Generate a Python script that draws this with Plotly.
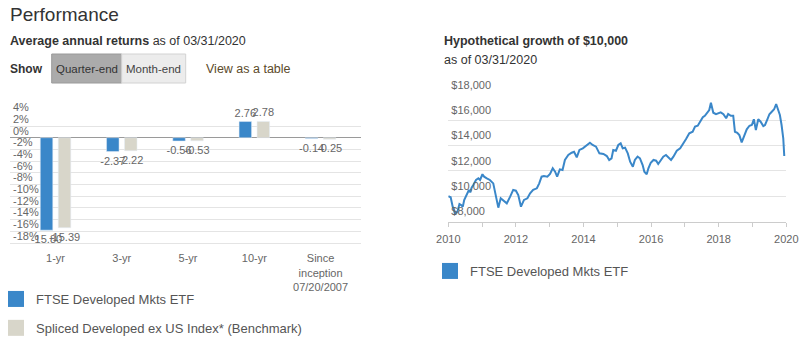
import plotly.graph_objects as go

FONT = "Liberation Sans, Arial, sans-serif"
W, H = 800, 347

# ---- data: average annual returns ----
periods = ["1-yr", "3-yr", "5-yr", "10-yr", "Since<br>inception<br>07/20/2007"]
fund_name = "FTSE Developed Mkts ETF"
bench_name = "Spliced Developed ex US Index* (Benchmark)"
fund_returns = [-15.80, -2.37, -0.56, 2.76, -0.14]
bench_returns = [-15.39, -2.22, -0.53, 2.78, -0.25]
return_ticks = [4, 2, 0, -2, -4, -6, -8, -10, -12, -14, -16, -18]
return_tick_labels = ["4%", "2%", "0%", "-2%", "-4%", "-6%", "-8%", "-10%",
                      "-12%", "-14%", "-16%", "-18%"]

# ---- data: hypothetical growth of $10,000 (decimal years) ----
growth_years = [
    2010.00, 2010.07, 2010.13, 2010.20, 2010.27, 2010.33, 2010.38, 2010.43, 2010.47, 2010.54,
    2010.61, 2010.65, 2010.69, 2010.74, 2010.82, 2010.89, 2010.94, 2011.01, 2011.06, 2011.14,
    2011.23, 2011.33, 2011.40, 2011.48, 2011.55, 2011.63, 2011.73, 2011.83, 2011.92, 2012.00,
    2012.07, 2012.15, 2012.24, 2012.34, 2012.42, 2012.51, 2012.62, 2012.69, 2012.76, 2012.83,
    2012.93, 2013.01, 2013.09, 2013.16, 2013.22, 2013.30, 2013.38, 2013.45, 2013.55, 2013.65,
    2013.72, 2013.80, 2013.88, 2013.98, 2014.07, 2014.19, 2014.27, 2014.37, 2014.47, 2014.59,
    2014.69, 2014.76, 2014.83, 2014.88, 2014.96, 2015.03, 2015.10, 2015.16, 2015.23, 2015.31,
    2015.38, 2015.46, 2015.52, 2015.60, 2015.67, 2015.75, 2015.80, 2015.87, 2015.92, 2015.99,
    2016.07, 2016.15, 2016.21, 2016.29, 2016.36, 2016.44, 2016.51, 2016.59, 2016.66, 2016.76,
    2016.86, 2016.93, 2017.03, 2017.13, 2017.23, 2017.30, 2017.38, 2017.45, 2017.53, 2017.59,
    2017.67, 2017.72, 2017.77, 2017.84, 2017.92, 2017.99, 2018.06, 2018.14, 2018.22, 2018.28,
    2018.36, 2018.43, 2018.48, 2018.55, 2018.61, 2018.68, 2018.75, 2018.83, 2018.91, 2018.98,
    2019.04, 2019.10, 2019.17, 2019.24, 2019.32, 2019.37, 2019.44, 2019.50, 2019.57, 2019.64,
    2019.70, 2019.76, 2019.81, 2019.86, 2019.91, 2019.94,
]
growth_values = [
    10000, 9920, 9180, 8650, 8780, 9390, 9310, 9180, 9710, 10100,
    10500, 10310, 10680, 10890, 11290, 11420, 11290, 11740, 11550, 11420,
    11290, 11020, 10230, 9100, 9840, 9650, 9440, 9970, 10500, 10440,
    10100, 9180, 9710, 9840, 10230, 10500, 10630, 11020, 11550, 11600,
    11550, 11760, 12210, 11940, 11550, 12130, 12080, 12870, 13260, 13440,
    13520, 13080, 13660, 13790, 13970, 14230, 14050, 13920, 13390, 13340,
    13180, 12870, 13000, 13660, 13600, 14050, 14180, 13790, 13840, 13390,
    12730, 12340, 12870, 13130, 13000, 12470, 11940, 11740, 12210, 12650,
    12870, 12810, 12550, 12920, 13130, 13260, 13080, 12870, 13130, 13600,
    13790, 14050, 14500, 14970, 15100, 15500, 15570, 15890, 16240, 16360,
    16600, 16810, 17390, 16600, 16480, 16550, 16630, 16480, 16160, 16500,
    16360, 16360, 15100, 15020, 14840, 14260, 14710, 15290, 15570, 15630,
    16080, 15240, 16080, 15890, 15550, 15630, 16080, 16480, 16680, 16870,
    17290, 16890, 16420, 15630, 14580, 13180,
]

BLUE = "#3a87c9"
BEIGE = "#d8d6ca"
GRID = "#e4e4e4"
TXT = "#666666"


def px_x(p):
    return p / W


def px_y(p):
    return 1 - p / H


fig = go.Figure()

# bars
fig.add_trace(go.Bar(
    x=periods, y=fund_returns, name=fund_name, marker_color=BLUE,
    text=[f"{v:.2f}" for v in fund_returns], textposition="outside",
    constraintext="none", cliponaxis=False,
    textfont=dict(size=11, color=TXT, family=FONT), showlegend=False,
    xaxis="x", yaxis="y",
))
fig.add_trace(go.Bar(
    x=periods, y=bench_returns, name=bench_name, marker_color=BEIGE,
    text=[f"{v:.2f}" for v in bench_returns], textposition="outside",
    constraintext="none", cliponaxis=False,
    textfont=dict(size=11, color=TXT, family=FONT), showlegend=False,
    xaxis="x", yaxis="y",
))
# legend proxies (square swatches)
fig.add_trace(go.Scatter(
    x=[None], y=[None], mode="markers", name=fund_name, legendgroup="a",
    marker=dict(symbol="square", size=16, color=BLUE), xaxis="x", yaxis="y",
    legend="legend",
))
fig.add_trace(go.Scatter(
    x=[None], y=[None], mode="markers", name=bench_name, legendgroup="b",
    marker=dict(symbol="square", size=16, color=BEIGE), xaxis="x", yaxis="y",
    legend="legend",
))

# growth line
fig.add_trace(go.Scatter(
    x=growth_years, y=growth_values, mode="lines", name=fund_name,
    line=dict(color=BLUE, width=2), showlegend=False,
    xaxis="x2", yaxis="y2",
))
fig.add_trace(go.Scatter(
    x=[None], y=[None], mode="markers", name=fund_name,
    marker=dict(symbol="square", size=16, color=BLUE), xaxis="x2", yaxis="y2",
    legend="legend2",
))

fig.update_layout(
    width=W, height=H,
    margin=dict(l=0, r=0, t=0, b=0, autoexpand=False),
    paper_bgcolor="white", plot_bgcolor="white",
    font=dict(family=FONT, color=TXT, size=11),
    barmode="group", bargap=0.457, bargroupgap=0.305,
    xaxis=dict(
        domain=[px_x(10), px_x(361)], range=[-0.687, 4.61],
        showline=True, linecolor=GRID, linewidth=1, showgrid=False,
        ticks="", tickfont=dict(size=11, color=TXT), ticklabelstandoff=5,
        fixedrange=True, anchor="y", automargin=False,
    ),
    yaxis=dict(
        domain=[px_y(243), px_y(114.3)], range=[-18, 4],
        tickvals=return_ticks, ticktext=return_tick_labels,
        showgrid=True, gridcolor=GRID, gridwidth=1,
        zeroline=True, zerolinecolor="#9a9a9a", zerolinewidth=1,
        ticklabelposition="inside", ticklabelshift=-7, ticklabeloverflow="allow",
        ticklabelstandoff=0, automargin=False,
        tickfont=dict(size=11, color=TXT), anchor="x",
    ),
    xaxis2=dict(
        domain=[px_x(448.3), px_x(786.3)], range=[2010, 2020],
        dtick=2, tick0=2010, tickformat="d",
        ticks="outside", ticklen=4, tickcolor="#cccccc",
        minor=dict(dtick=1, ticks="outside", ticklen=4, tickcolor="#cccccc"),
        showline=True, linecolor="#cccccc", showgrid=False, zeroline=False,
        tickfont=dict(size=11, color=TXT), ticklabelstandoff=3, anchor="y2",
        automargin=False,
    ),
    yaxis2=dict(
        domain=[px_y(221.6), px_y(95)], range=[8000, 18000],
        dtick=2000, tickprefix="$", tickformat=",d",
        showgrid=True, gridcolor=GRID, zeroline=False,
        ticklabelposition="inside", ticklabelshift=-10, ticklabeloverflow="allow",
        ticklabelstandoff=0, automargin=False,
        tickfont=dict(size=11, color=TXT), anchor="x2",
    ),
    legend=dict(
        x=px_x(-4), y=px_y(284), xanchor="left", yanchor="top",
        orientation="v", traceorder="grouped", tracegroupgap=9,
        font=dict(size=13, color="#555555", family=FONT),
        bgcolor="rgba(0,0,0,0)",
    ),
    legend2=dict(
        x=px_x(430), y=px_y(256), xanchor="left", yanchor="top",
        font=dict(size=13, color="#555555", family=FONT),
        bgcolor="rgba(0,0,0,0)",
    ),
    showlegend=True,
)

# buttons
fig.add_shape(type="rect", xref="paper", yref="paper",
              x0=px_x(51.7), x1=px_x(121.7), y0=px_y(83), y1=px_y(54),
              fillcolor="#ababab", line=dict(color="#9a9a9a", width=1), layer="below")
fig.add_shape(type="rect", xref="paper", yref="paper",
              x0=px_x(121.7), x1=px_x(185.7), y0=px_y(83), y1=px_y(54),
              fillcolor="#ececec", line=dict(color="#d2d2d2", width=1), layer="below")


def note(text, x, y, size, color="#333333", xanchor="left"):
    fig.add_annotation(text=text, xref="paper", yref="paper",
                       x=px_x(x), y=px_y(y), xanchor=xanchor, yanchor="middle",
                       showarrow=False, font=dict(size=size, color=color, family=FONT))


note("Performance", 8, 14, 19, "#333333")
note("<b>Average annual returns</b> as of 03/31/2020", 8, 41.5, 12.5, "#333333")
note("<b>Show</b>", 8, 69.5, 12, "#333333")
note("Quarter-end", 86.7, 68.5, 11.5, "#333333", "center")
note("Month-end", 153.7, 68.5, 11.5, "#444444", "center")
note("View as a table", 204, 69.5, 12.5, "#5c4a2a")
note("<b>Hypothetical growth of $10,000</b>", 442, 41.5, 12.5, "#333333")
note("as of 03/31/2020", 442, 59.5, 12.5, "#333333")

fig.write_html("out.html")
